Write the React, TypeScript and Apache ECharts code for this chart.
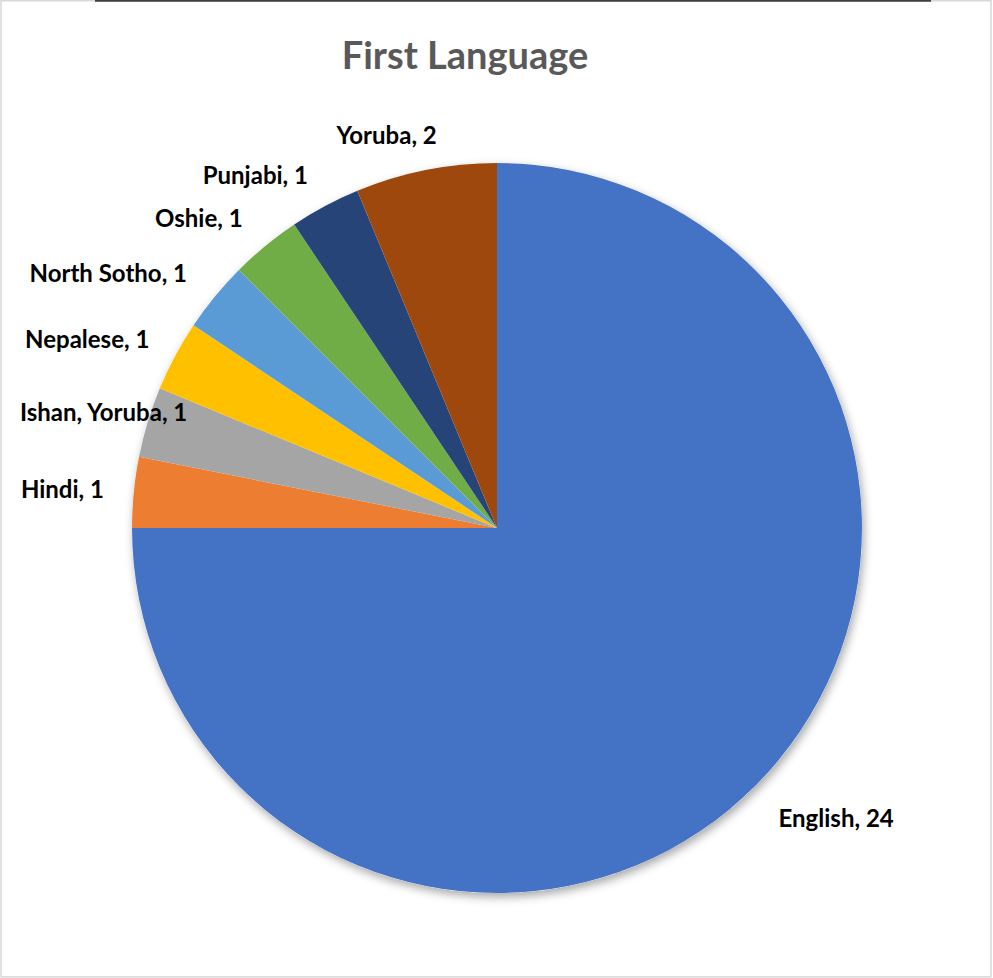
import React, { useEffect, useRef } from "react";
import * as echarts from "echarts";

const categories = ["English", "Hindi", "Ishan, Yoruba", "Nepalese", "North Sotho", "Oshie", "Punjabi", "Yoruba"];
const values = [24, 1, 1, 1, 1, 1, 1, 2];
const colors = ["#4472C4", "#ED7D31", "#A5A5A5", "#FFC000", "#5B9BD5", "#70AD47", "#264478", "#9E480E"];
const titleText = "First Language";
// label nudges (px), like Excel's own placement
const labelShiftX = [-2, 6, 74, 6, 0, 0, 0, 18];
const labelShiftY = [6, 0, 0, 0, -1, -1, 0, 0];

export default function App() {
  const ref = useRef<HTMLDivElement>(null);
  useEffect(() => {
    if (!ref.current) return;
    const chart = echarts.init(ref.current, undefined, { renderer: "svg" });
    const font = "Lato, 'Open Sans', sans-serif";
    chart.setOption({
      animation: false,
      backgroundColor: "#ffffff",
      title: {
        text: titleText,
        left: 460,
        top: 30,
        textAlign: "center",
        textStyle: { fontFamily: font, fontWeight: "bold", fontSize: 38, color: "#595959" },
      },
      graphic: [
        {
          type: "rect",
          shape: { x: 1, y: 0.75, width: 990, height: 976 },
          style: { fill: "none", stroke: "#d9d9d9", lineWidth: 1.5 },
          z: 10,
        },
        {
          type: "line",
          shape: { x1: 95, y1: 0.75, x2: 931, y2: 0.75 },
          style: { stroke: "#404040", lineWidth: 2 },
          z: 11,
        },
      ],
      series: [
        {
          type: "pie",
          silent: true,
          center: [497, 528],
          radius: 365,
          z: 1,
          label: { show: false },
          labelLine: { show: false },
          itemStyle: {
            color: "#ffffff",
            shadowBlur: 10,
            shadowColor: "rgba(0,0,0,0.35)",
            shadowOffsetX: 2,
            shadowOffsetY: 4,
          },
          data: [{ value: 1, name: "" }],
        },
        {
          type: "pie",
          center: [497, 528],
          radius: 365,
          startAngle: 90,
          clockwise: true,
          z: 2,
          avoidLabelOverlap: false,
          itemStyle: { borderWidth: 0 },
          label: {
            show: true,
            position: "outside",
            formatter: "{b}, {c}",
            fontFamily: font,
            fontWeight: "bold",
            fontSize: 24,
            color: "#000000",
            distanceToLabelLine: 0,
          },
          labelLine: { show: false, length: 36, length2: 0 },
          labelLayout: (params: any) => ({
            dx: labelShiftX[params.dataIndex] || 0,
            dy: labelShiftY[params.dataIndex] || 0,
          }),
          data: categories.map((name, i) => ({
            name,
            value: values[i],
            itemStyle: { color: colors[i] },
          })),
        },
      ],
    });
    return () => chart.dispose();
  }, []);
  return (
    <div
      ref={ref}
      style={{ position: "absolute", left: 0, top: 0, width: 993, height: 978 }}
    />
  );
}
